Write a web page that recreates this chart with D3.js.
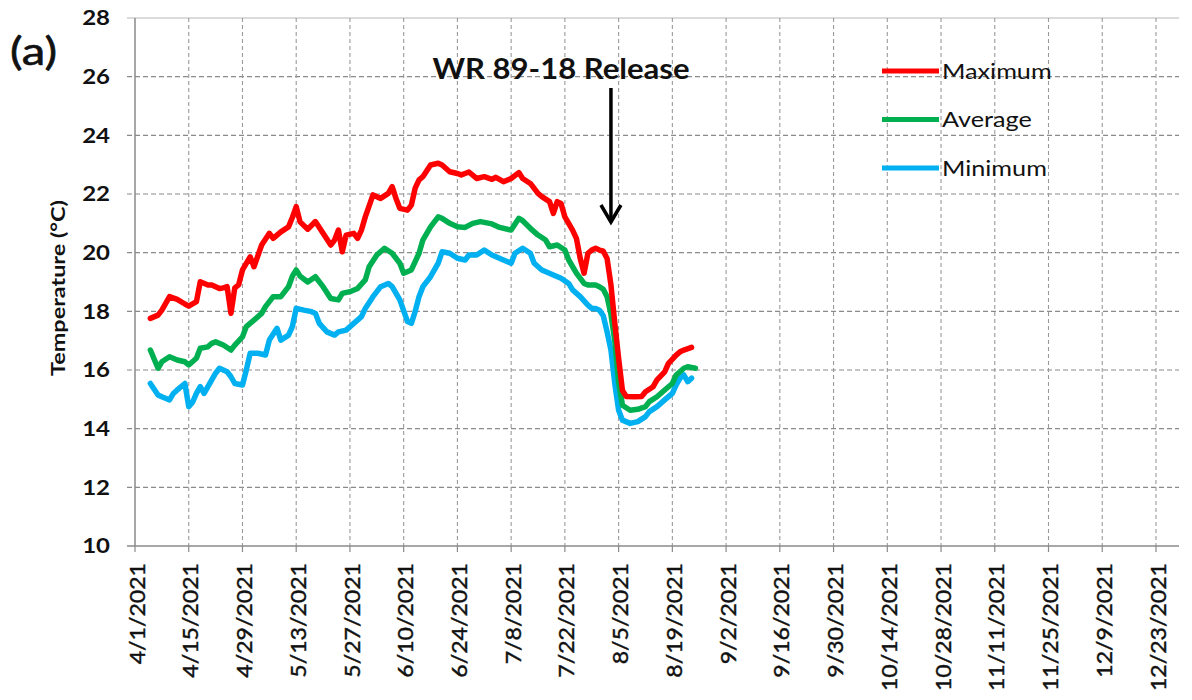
<!DOCTYPE html>
<html><head><meta charset="utf-8">
<script src="https://cdn.jsdelivr.net/npm/d3@7"></script>
<style>
html,body{margin:0;padding:0;background:#fff;}
svg{display:block;font-family:"Lato","Open Sans",sans-serif;}
</style></head>
<body><svg id="chart" width="1192" height="700"></svg>
<script>
// ---- data (day offset from 4/1/2021, temperature °C) ----
const startDate = new Date(2021, 3, 1);
const endDate = new Date(2021, 11, 29);
const yTicks = [10, 12, 14, 16, 18, 20, 22, 24, 26, 28];
const tickStepDays = 14;
const releaseDay = 124;
const releaseLabel = "WR 89-18 Release";
const seriesNames = ["Maximum", "Average", "Minimum"];

const maxDays = [4,6,7,9,11,13,14,16,17,19,20,22,23,24,25,26,27,28,30,31,33,35,36,38,40,41,42,43,45,47,49,51,52,53,54,55,57,58,59,60,62,64,66,67,68,69,71,72,73,74,75,77,79,80,82,84,85,86,87,89,91,93,94,96,98,100,101,103,105,106,108,109,110,111,112,114,115,116,117,118,119,120,121,122,123,124,125,126,127,128,130,132,133,135,136,138,139,141,142,143,145];
const maxTemp = [17.76,17.87,18.04,18.50,18.41,18.25,18.18,18.33,19.01,18.90,18.90,18.78,18.80,18.84,17.93,18.80,18.90,19.41,19.86,19.52,20.26,20.66,20.49,20.71,20.88,21.20,21.57,21.05,20.80,21.06,20.66,20.26,20.43,20.77,20.03,20.60,20.66,20.49,20.77,21.22,21.97,21.85,22.02,22.25,21.85,21.51,21.45,21.62,22.20,22.48,22.59,22.99,23.05,22.99,22.76,22.70,22.65,22.70,22.75,22.53,22.59,22.50,22.57,22.42,22.53,22.73,22.53,22.36,22.02,21.91,21.74,21.34,21.74,21.68,21.22,20.77,20.49,19.80,19.30,19.98,20.09,20.15,20.09,20.05,19.80,18.90,17.60,16.40,15.30,15.10,15.09,15.10,15.26,15.43,15.66,15.94,16.23,16.51,16.62,16.68,16.77];

const avgDays = [4,6,7,9,11,13,14,16,17,19,20,21,23,25,26,28,29,31,33,34,36,38,40,41,42,43,45,47,49,51,53,54,56,58,60,61,63,65,67,69,70,72,74,75,77,79,80,82,84,86,88,90,93,95,98,100,101,103,105,107,108,110,112,113,115,117,118,120,121,122,123,124,125,126,127,129,131,133,134,136,138,140,141,143,144,146];
const avgTemp = [16.68,16.06,16.28,16.45,16.34,16.28,16.17,16.40,16.74,16.79,16.91,16.96,16.85,16.68,16.85,17.13,17.48,17.70,17.93,18.16,18.50,18.50,18.84,19.20,19.41,19.20,19.00,19.18,18.84,18.44,18.39,18.61,18.67,18.78,19.07,19.52,19.92,20.15,19.98,19.64,19.30,19.41,19.98,20.43,20.88,21.22,21.17,21.00,20.88,20.86,21.00,21.06,20.98,20.86,20.77,21.17,21.09,20.83,20.60,20.43,20.20,20.26,20.09,19.75,19.30,18.95,18.90,18.90,18.84,18.75,18.50,17.90,17.00,15.60,14.80,14.63,14.66,14.75,14.92,15.09,15.32,15.54,15.83,16.06,16.11,16.06];

const minDays = [4,6,7,9,10,11,13,14,15,16,17,18,20,21,22,24,25,26,28,29,30,32,34,35,37,38,40,41,42,44,46,47,48,50,52,53,55,57,59,60,62,64,66,67,69,71,72,73,74,75,77,79,80,82,84,86,87,89,91,93,96,98,99,101,103,104,106,109,111,113,114,116,118,119,120,121,122,123,124,125,126,127,129,131,133,134,136,138,140,141,142,143,144,145];
const minTemp = [15.54,15.15,15.09,14.98,15.20,15.32,15.54,14.75,14.90,15.20,15.43,15.20,15.66,15.89,16.06,15.94,15.77,15.54,15.49,16.00,16.57,16.57,16.51,17.02,17.42,17.02,17.19,17.48,18.10,18.04,17.99,17.93,17.59,17.30,17.19,17.30,17.36,17.59,17.82,18.10,18.50,18.84,18.95,18.84,18.39,17.65,17.59,18.00,18.50,18.84,19.18,19.64,20.03,19.98,19.81,19.75,19.92,19.92,20.09,19.92,19.75,19.64,19.98,20.15,19.98,19.64,19.41,19.24,19.13,18.95,18.73,18.50,18.21,18.10,18.10,18.04,17.85,17.30,16.68,15.54,14.63,14.29,14.18,14.24,14.41,14.58,14.75,14.98,15.20,15.49,15.72,15.83,15.60,15.72];

const colors = ["#ff0000", "#00b050", "#00b0f0"];

// ---- chart ----
const svg = d3.select("#chart");
const x = d3.scaleTime().domain([startDate, endDate]).range([135, 1179]);
const y = d3.scaleLinear().domain([10, 28]).range([546, 18]);
const fmt = d3.timeFormat("%-m/%-d/%Y");
const xTicks = d3.range(0, d3.timeDay.count(startDate, endDate) + 1, tickStepDays).map(d => d3.timeDay.offset(startDate, d));

function stretch(sel, f) {
  sel.each(function() {
    const l = this.getComputedTextLength();
    d3.select(this).attr("textLength", l * f).attr("lengthAdjust", "spacingAndGlyphs");
  });
}
function fitTo(sel, w) {
  sel.attr("textLength", w).attr("lengthAdjust", "spacingAndGlyphs");
}

// grid
const g = svg.append("g");
g.selectAll("line.hg").data(yTicks.filter(v => v > 10)).join("line")
  .attr("x1", 127).attr("x2", 1179).attr("y1", d => y(d)).attr("y2", d => y(d))
  .attr("stroke", "#8a8a8a").attr("stroke-width", 1.2)
  .attr("stroke-dasharray", d => d === 28 ? null : "5,3")
  .attr("stroke-opacity", d => d === 28 ? 0.6 : 1);
g.selectAll("line.vg").data(xTicks.slice(1)).join("line")
  .attr("x1", d => x(d)).attr("x2", d => x(d)).attr("y1", 18).attr("y2", 546)
  .attr("stroke", "#9a9a9a").attr("stroke-width", 1.1).attr("stroke-dasharray", "4,3");
// axis lines
g.append("line").attr("x1", 135).attr("x2", 135).attr("y1", 18).attr("y2", 546).attr("stroke", "#8a8a8a").attr("stroke-width", 1.5);
g.append("line").attr("x1", 127).attr("x2", 1179).attr("y1", 546).attr("y2", 546).attr("stroke", "#8a8a8a").attr("stroke-width", 1.5);
g.selectAll("line.xt").data(xTicks).join("line")
  .attr("x1", d => x(d)).attr("x2", d => x(d)).attr("y1", 546).attr("y2", 552)
  .attr("stroke", "#8a8a8a").attr("stroke-width", 1.2);

// y labels
const yl = svg.append("g").selectAll("text").data(yTicks).join("text")
  .attr("x", 110).attr("y", d => y(d)).attr("dy", "0.36em")
  .attr("text-anchor", "end").attr("font-weight", "bold").attr("font-size", 20)
  .attr("fill", "#111").text(d => d);
stretch(yl, 1.2);

// x labels
const xl = svg.append("g").selectAll("text").data(xTicks).join("text")
  .attr("transform", d => `translate(${x(d) + 2},563) rotate(-90)`)
  .attr("dy", "0.36em").attr("text-anchor", "end")
  .attr("font-size", 21).attr("fill", "#111")
  .attr("stroke", "#111").attr("stroke-width", 0.4).text(d => fmt(d));
stretch(xl, 1.1);

// y title
const yt = svg.append("text").attr("transform", "translate(59,288) rotate(-90)")
  .attr("dy", "0.36em").attr("text-anchor", "middle").attr("font-weight", "bold")
  .attr("font-size", 18).attr("fill", "#111").text("Temperature (°C)");
fitTo(yt, 176);

// panel label
const pl = svg.append("text").attr("x", 10).attr("y", 65).attr("font-size", 38)
  .attr("fill", "#111").attr("stroke", "#111").attr("stroke-width", 0.6).text("(a)");
fitTo(pl, 47);

// lines
const line = d3.line().x(d => x(d3.timeDay.offset(startDate, d[0]))).y(d => y(d[1])).curve(d3.curveLinear);
const series = [
  d3.zip(maxDays, maxTemp),
  d3.zip(avgDays, avgTemp),
  d3.zip(minDays, minTemp)
];
[2, 1, 0].forEach(i => {
  svg.append("path").datum(series[i]).attr("d", line)
    .attr("fill", "none").attr("stroke", colors[i]).attr("stroke-width", 5.5)
    .attr("stroke-linejoin", "round").attr("stroke-linecap", "round");
});

// annotation
const rx = x(d3.timeDay.offset(startDate, releaseDay));
const at = svg.append("text").attr("x", 561).attr("y", 79).attr("text-anchor", "middle")
  .attr("font-weight", "bold").attr("font-size", 28).attr("fill", "#111").text(releaseLabel);
fitTo(at, 257);
svg.append("line").attr("x1", rx).attr("x2", rx).attr("y1", 88).attr("y2", 221)
  .attr("stroke", "#000").attr("stroke-width", 3.5);
svg.append("path").attr("d", `M${rx - 10},205 L${rx},222 L${rx + 10},205`)
  .attr("fill", "none").attr("stroke", "#000").attr("stroke-width", 3.5);

// legend
const leg = svg.append("g");
seriesNames.forEach((n, i) => {
  const ly = 71 + i * 48.5;
  leg.append("line").attr("x1", 882).attr("x2", 939).attr("y1", ly).attr("y2", ly)
    .attr("stroke", colors[i]).attr("stroke-width", 5);
  const t = leg.append("text").attr("x", 942).attr("y", ly).attr("dy", "0.36em")
    .attr("font-size", 21).attr("fill", "#111").text(n);
  stretch(t, 1.2);
});
</script>
</body></html>
